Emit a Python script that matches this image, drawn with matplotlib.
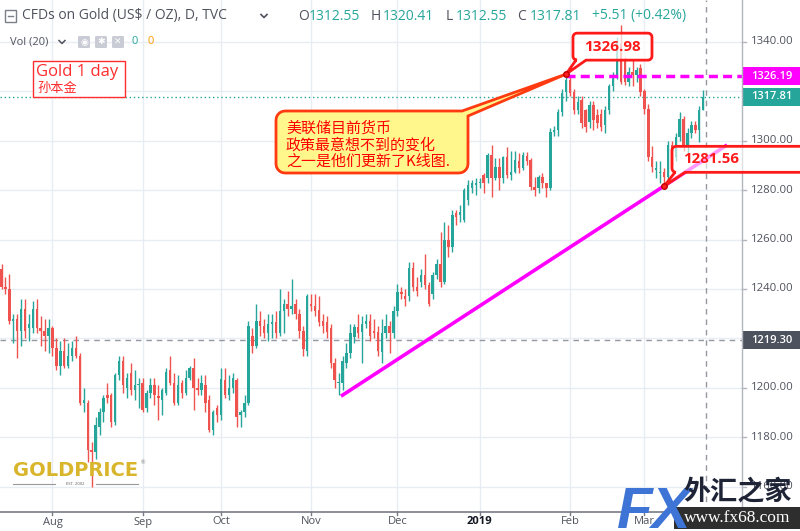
import numpy as np
import matplotlib
matplotlib.use("Agg")
import matplotlib.pyplot as plt
from matplotlib.patches import Polygon, Rectangle, FancyBboxPatch
from matplotlib.lines import Line2D
from matplotlib.transforms import blended_transform_factory

plt.rcParams['font.family'] = ['Open Sans', 'Noto Sans CJK SC', 'DejaVu Sans']

# ---------------- data ----------------
opens = [1248, 1241, 1240, 1227, 1228, 1223, 1232, 1224, 1224, 1232,
         1224, 1223, 1221, 1224, 1216, 1209, 1215, 1209, 1213, 1216,
         1213, 1194, 1194, 1175, 1174, 1184, 1190, 1197, 1197, 1186,
         1205, 1211, 1200, 1206, 1199, 1201, 1202, 1192, 1198, 1201,
         1196.5, 1195, 1198, 1207, 1202, 1194, 1202, 1198, 1204, 1208,
         1200, 1199, 1201, 1195, 1183, 1192, 1189, 1203, 1197, 1200,
         1203, 1189, 1190, 1194, 1221, 1217, 1227, 1225, 1222, 1226,
         1226.6, 1222, 1231, 1234, 1232, 1234, 1230, 1223, 1215, 1234,
         1233, 1231.5, 1227, 1226.6, 1224, 1210, 1202, 1202, 1210, 1214,
         1220.6, 1224.6, 1222.6, 1226, 1227, 1223, 1222.6, 1214.5, 1222, 1225,
         1222, 1231, 1238.6, 1237, 1237, 1248.5, 1241, 1243, 1245.7, 1241.6,
         1238, 1245.7, 1250, 1243, 1260, 1257, 1270.6, 1270, 1268, 1276,
         1280.7, 1282, 1283, 1286, 1284.8, 1294.2, 1284.8, 1289.5, 1284.8, 1293.6,
         1286, 1287.5, 1292, 1288.8, 1294, 1292.2, 1281.4, 1280.7, 1285.5, 1282.8,
         1280.7, 1303.7, 1304.4, 1311.8, 1319.9, 1324.6, 1319.9, 1312.5, 1316.5, 1312.5,
         1307.7, 1314.5, 1310.4, 1311, 1306.4, 1312.5, 1322, 1326.6, 1339, 1332.7,
         1324, 1328, 1326.6, 1329.3, 1320, 1313, 1293.6, 1288, 1287, 1287.5,
         1285.5, 1298.3, 1293.6, 1301.7, 1309, 1297.6, 1303, 1306.4, 1304.4, 1312.55]
highs = [1250, 1245, 1246, 1230, 1230, 1236, 1236, 1230, 1235, 1236,
         1229, 1228, 1228, 1225, 1220, 1219, 1220, 1218, 1219, 1221,
         1214, 1200, 1195, 1178, 1188, 1192, 1197, 1202, 1198, 1206,
         1213, 1213, 1206, 1210, 1207, 1204, 1204, 1199, 1204, 1204,
         1201, 1200, 1208, 1213, 1206, 1205, 1203, 1207, 1209, 1212,
         1204, 1205, 1205, 1197, 1191, 1193, 1208, 1208, 1205, 1206,
         1204, 1191, 1197, 1227, 1224, 1234, 1231, 1228, 1230, 1230,
         1231, 1240, 1236, 1239, 1244, 1236, 1232, 1225, 1238, 1238,
         1238, 1237, 1230, 1229, 1226, 1212, 1206, 1213, 1218, 1226,
         1226, 1230, 1229, 1230, 1230, 1228, 1225, 1228, 1230, 1227,
         1233, 1242, 1241, 1240, 1251, 1251, 1245, 1248, 1254, 1243,
         1247, 1252, 1263, 1267, 1266, 1272, 1272, 1274, 1281, 1284,
         1284, 1285, 1285, 1287, 1295, 1298.3, 1293, 1293, 1294, 1297.6,
         1296, 1296, 1295, 1295.5, 1295.5, 1293, 1285.5, 1286, 1287, 1283,
         1305, 1306, 1313, 1321, 1326.98, 1326, 1321, 1318, 1318, 1313,
         1316, 1316, 1313, 1313, 1314, 1323, 1328, 1342, 1346.9, 1334,
         1330, 1333, 1330, 1331, 1321, 1315, 1298, 1292, 1292, 1289,
         1300, 1300, 1303, 1311.8, 1310, 1305, 1308, 1308, 1314, 1320.41]
lows = [1240, 1238, 1226, 1218, 1212, 1217, 1220, 1219, 1222, 1222,
        1217, 1215, 1214, 1213, 1207, 1205, 1208, 1208, 1211, 1212,
        1193, 1190, 1170, 1160, 1171, 1181, 1186, 1194, 1184, 1185,
        1203, 1198, 1196, 1197, 1195, 1192, 1190, 1190, 1196, 1193,
        1187, 1189, 1197, 1201, 1193, 1193, 1196, 1197, 1203, 1191,
        1197, 1197, 1190, 1182, 1181, 1186, 1187, 1196, 1195, 1198,
        1184, 1184, 1188, 1193, 1214, 1216, 1221, 1220, 1219, 1220,
        1220, 1221, 1222, 1229, 1230, 1228, 1220, 1213, 1213, 1231,
        1229, 1225, 1222, 1220, 1208, 1200, 1197, 1199, 1208, 1212,
        1218, 1220, 1210, 1224, 1219, 1220, 1213, 1210, 1220, 1214,
        1220, 1229, 1236, 1233, 1235, 1239, 1237, 1241, 1240, 1233,
        1236, 1244, 1241, 1242, 1253, 1255, 1266, 1267, 1267, 1274,
        1279, 1278, 1281, 1279, 1283, 1277.4, 1284, 1280, 1283, 1285,
        1284, 1287, 1287, 1288, 1290, 1280, 1277.5, 1279, 1280.7, 1277.4,
        1280, 1302, 1302, 1310, 1316, 1318, 1311, 1311, 1305, 1303.7,
        1305, 1304.5, 1305, 1304, 1303, 1311, 1320, 1325, 1323, 1322.5,
        1322, 1322, 1324, 1318, 1311, 1292, 1287.5, 1285, 1282.8, 1281.56,
        1284, 1290, 1292, 1300, 1296, 1295, 1301, 1303, 1299.6, 1312.55]
closes = [1241, 1240, 1227, 1228, 1223, 1232, 1223, 1226, 1232, 1224,
          1223, 1221, 1224, 1216, 1209, 1215, 1209, 1213, 1216, 1213,
          1194, 1195, 1175, 1174, 1185, 1190, 1196, 1196, 1186, 1205,
          1211, 1201, 1204, 1199, 1201, 1201.5, 1191, 1198, 1201, 1197,
          1196, 1199, 1206.5, 1202, 1194, 1201, 1198, 1204, 1208, 1200,
          1199, 1202, 1194, 1183, 1190, 1189, 1203.5, 1197, 1200, 1204,
          1188, 1190, 1194, 1225, 1217, 1227, 1225, 1222, 1226, 1226.5,
          1222, 1231, 1234, 1232, 1233, 1230, 1223, 1215.5, 1237, 1233,
          1231, 1226.6, 1225, 1222.6, 1210, 1203, 1202.5, 1211, 1214, 1222,
          1224.6, 1222, 1226, 1227, 1221, 1222, 1215, 1222, 1225, 1222,
          1231, 1238.6, 1238, 1236, 1248.5, 1241, 1239, 1245.7, 1241.6, 1234,
          1245.7, 1250, 1243, 1260, 1257, 1270, 1269.3, 1271, 1280, 1282,
          1282.8, 1283, 1283.5, 1282.8, 1294.2, 1284.8, 1289.5, 1284.8, 1293.6, 1286.1,
          1287.5, 1292.2, 1288.8, 1294.2, 1292, 1281.4, 1280.1, 1285.5, 1282.8, 1280.7,
          1303.7, 1304.4, 1311.8, 1319.2, 1324.6, 1319.2, 1312.5, 1315.8, 1307, 1305.7,
          1314.5, 1308.4, 1307, 1305.7, 1312.5, 1322, 1326.6, 1340.5, 1324, 1324,
          1328, 1326.6, 1328.6, 1319.9, 1313, 1293.6, 1289.5, 1289, 1287.5, 1285.5,
          1298.3, 1293.6, 1301.7, 1309, 1297.6, 1303, 1306.4, 1304.4, 1312.3, 1317.81]

month_labels = ['Aug', 'Sep', 'Oct', 'Nov', 'Dec', '2019', 'Feb', 'Mar']
month_bars = [13, 36, 56, 79, 101, 122, 145, 164]
grid_prices = [1160, 1180, 1200, 1220, 1240, 1260, 1280, 1300, 1320, 1340]
price_labels = [1160, 1180, 1200, 1240, 1260, 1280, 1300, 1340]

high_bar, high_price = 144, 1326.98
low_bar, low_price = 169, 1281.56
resist_price = 1326.19
cross_price = 1219.30
cross_bar = 179.8
trend_bars = [86.6, 185.1]
trend_prices = [1196.6, 1298.3]

header_pairs = [('O', '1312.55'), ('H', '1320.41'), ('L', '1312.55'), ('C', '1317.81')]
change_text = '+5.51 (+0.42%)'

# ---------------- style ----------------
W, H, DPI = 800, 531, 100
UP, DN = '#26a69a', '#ef5350'
GRID = '#e8edf4'
TXT = '#50535e'
MAG = '#ff00ff'
RED = '#ff1a1a'

fig = plt.figure(figsize=(W / DPI, H / DPI), dpi=DPI)
fig.patch.set_facecolor('white')

BAR_PX, FIRST_PX = 3.92, 1.5
PLOT_R, PLOT_B = 742, 512
ax = fig.add_axes([0, (H - PLOT_B) / H, PLOT_R / W, PLOT_B / H])
ax.set_xlim(-FIRST_PX / BAR_PX, (PLOT_R - FIRST_PX) / BAR_PX)
ax.set_ylim(1149.7, 1357.0)
ax.set_facecolor('white')
for s in ax.spines.values():
    s.set_visible(False)
ax.set_xticks([])
ax.set_yticks([])

def fx(px):
    return px / W

def fy(py):
    return 1 - py / H

# grid
for p in grid_prices:
    ax.axhline(p, color=GRID, lw=1, zorder=0)
for m in month_bars:
    ax.axvline(m, color=GRID, lw=1, zorder=0)

# candles
o = np.array(opens, float); h = np.array(highs, float)
l = np.array(lows, float); c = np.array(closes, float)
idx = np.arange(len(c))
cols = np.where(c >= o, UP, DN)
ax.vlines(idx, l, h, colors=cols, lw=1, zorder=3)
bot = np.minimum(o, c)
hgt = np.maximum(np.abs(c - o), 0.45)
ax.bar(idx, hgt, bottom=bot, width=0.62, color=cols, linewidth=0, zorder=4)

# lines
ax.axhline(c[-1], color=UP, lw=1, ls=(0, (1, 2)), zorder=2)
ax.axhline(cross_price, color='#9598a1', lw=1, ls=(0, (4, 3.5)), zorder=2)
ax.axvline(cross_bar, color='#9598a1', lw=1, ls=(0, (4, 3.5)), zorder=2)
ax.plot([high_bar, ax.get_xlim()[1] + 1], [resist_price] * 2, color=MAG, lw=2.5,
        ls=(0, (2.6, 1.5)), zorder=5, clip_on=False)
ax.plot(trend_bars, trend_prices, color=MAG, lw=2.6, solid_capstyle='butt', zorder=5)

# axis borders
fig.add_artist(Line2D([fx(PLOT_R), fx(PLOT_R)], [fy(PLOT_B), 1], color='#b2b5be', lw=1,
                      transform=fig.transFigure, zorder=6))
fig.add_artist(Line2D([0, fx(PLOT_R)], [fy(PLOT_B), fy(PLOT_B)], color='#787b86', lw=1.2,
                      transform=fig.transFigure, zorder=6))

# ---------------- callouts ----------------
def arc(cx, cy, r, a0, a1, n=6):
    a = np.radians(np.linspace(a0, a1, n))
    return list(zip(cx + r * np.cos(a), cy + r * np.sin(a)))

def callout_bottom(lf, tp, rt, bt, rad, bx1, bx2, tip):
    pts = arc(lf + rad, tp + rad, rad, 180, 270)
    pts += arc(rt - rad, tp + rad, rad, 270, 360)
    pts += arc(rt - rad, bt - rad, rad, 0, 90)
    pts += [(bx2, bt), tip, (bx1, bt)]
    pts += arc(lf + rad, bt - rad, rad, 90, 180)
    return pts

def callout_topright(lf, tp, rt, bt, rad, bx, by, tip):
    pts = arc(lf + rad, tp + rad, rad, 180, 270)
    pts += [(bx, tp), tip, (rt, by)]
    pts += arc(rt - rad, bt - rad, rad, 0, 90)
    pts += arc(lf + rad, bt - rad, rad, 90, 180)
    return pts

def to_fig(pts):
    return [(fx(x), fy(y)) for x, y in pts]

def data_px(xv, yv):
    dx, dy = ax.transData.transform((xv, yv))
    return dx, H - dy

tipH = data_px(high_bar, high_price)
tipL = data_px(low_bar, low_price)

# yellow comment box
ypts = callout_topright(276, 111, 468, 173, 9, 462, 116, tipH)
fig.add_artist(Polygon(to_fig(ypts), closed=True, transform=fig.transFigure,
                       fc='#fff68c', ec='#ff3a10', lw=2, zorder=7))
ylines = ['美联储目前货币', '政策最意想不到的变化', '之一是他们更新了K线图.']
for i, s in enumerate(ylines):
    fig.text(fx(286), fy(128 + 17 * i), s, color='#ff0000', fontsize=10.8,
             family=['Noto Sans CJK SC', 'DejaVu Sans'], va='center', ha='left', zorder=8)

# 1326.98 box
hx, hy = tipH
b1 = callout_bottom(hx + 7, hy - 41, hx + 86, hy - 14, 4, hx + 10, hx + 20, tipH)
fig.add_artist(Polygon(to_fig(b1), closed=True, transform=fig.transFigure,
                       fc=(1, 1, 1, 0.72), ec=RED, lw=2, zorder=7))
fig.text(fx(hx + 46), fy(hy - 27), f'{high_price:.2f}', color=RED, fontsize=11,
         fontweight='bold', ha='center', va='center', zorder=8)

# 1281.56 box
lx, ly = tipL
b2 = callout_bottom(lx + 8, ly - 40, lx + 160, ly - 14, 4, lx + 11, lx + 21, tipL)
fig.add_artist(Polygon(to_fig(b2), closed=True, transform=fig.transFigure,
                       fc=(1, 1, 1, 0.6), ec=RED, lw=2, zorder=7))
fig.text(fx(lx + 19), fy(ly - 27), f'{low_price:.2f}', color=RED, fontsize=10.8,
         fontweight='bold', ha='left', va='center', zorder=8)

# markers
for (bx_, py_) in [(high_bar, high_price), (low_bar, low_price)]:
    dx, dy = data_px(bx_, py_)
    fig.add_artist(Line2D([fx(dx)], [fy(dy)], marker='o', ms=4, color='#ff2020',
                          mec='#c00000', transform=fig.transFigure, zorder=9))

# ---------------- price axis ----------------
blend = blended_transform_factory(fig.transFigure, ax.transData)
for p in price_labels:
    ax.text(fx(751), p, f'{p:.2f}', transform=blend, fontsize=8.2, color=TXT,
            va='center', ha='left', clip_on=False, zorder=10)
for p in grid_prices:
    ax.plot([fx(PLOT_R), fx(PLOT_R + 4)], [p, p], transform=blend, color='#b2b5be',
            lw=1, clip_on=False, zorder=10)

def price_tag(price, bg, text):
    ax.add_patch(Rectangle((fx(PLOT_R), price - 3.65), fx(W - PLOT_R), 7.3,
                           transform=blend, fc=bg, ec='none', clip_on=False, zorder=11))
    ax.text(fx(772), price, text, transform=blend, fontsize=8, color='white',
            fontweight='semibold', va='center', ha='center', clip_on=False, zorder=12)

price_tag(resist_price, MAG, f'{resist_price:.2f}')
price_tag(c[-1], UP, f'{c[-1]:.2f}')
price_tag(cross_price, '#4c525e', f'{cross_price:.2f}')

# ---------------- time axis ----------------
tblend = blended_transform_factory(ax.transData, fig.transFigure)
for m, lab in zip(month_bars, month_labels):
    bold = lab.isdigit()
    ax.text(m, fy(522), lab, transform=tblend, fontsize=8, ha='center', va='center',
            color='#131722' if bold else TXT, fontweight='bold' if bold else 'normal',
            clip_on=False, zorder=13)
    ax.plot([m, m], [fy(512), fy(515)], transform=tblend, color='#787b86', lw=1,
            clip_on=False, zorder=10)

# ---------------- header ----------------
fig.add_artist(Rectangle((fx(5), fy(22)), fx(11), 12 / H, transform=fig.transFigure,
                         fc='white', ec='#7b7f8a', lw=1, zorder=10))
fig.add_artist(Line2D([fx(8), fx(13)], [fy(16), fy(16)], color='#7b7f8a', lw=1,
                      transform=fig.transFigure, zorder=11))
fig.text(fx(22), fy(16), 'CFDs on Gold (US\\$ / OZ), D, TVC', fontsize=10, color=TXT,
         va='center', ha='left', zorder=10)
fig.add_artist(Line2D([fx(261), fx(264), fx(267)], [fy(14.5), fy(17.5), fy(14.5)],
                      color=TXT, lw=1.2, transform=fig.transFigure, zorder=10))
xpos = [(298, 309), (371, 383), (446, 456), (517, 530)]
for (k, v), (xk, xv) in zip(header_pairs, xpos):
    fig.text(fx(xk), fy(16), k, fontsize=10, color=TXT, va='center', ha='left', zorder=10)
    fig.text(fx(xv), fy(16), v, fontsize=10, color=UP, va='center', ha='left', zorder=10)
fig.text(fx(592), fy(16), change_text, fontsize=10, color=UP, va='center', ha='left', zorder=10)

fig.text(fx(10), fy(42), 'Vol (20)', fontsize=8, color=TXT, va='center', ha='left', zorder=10)
fig.add_artist(Line2D([fx(59), fx(62), fx(65)], [fy(40.5), fy(43.5), fy(40.5)],
                      color=TXT, lw=1.1, transform=fig.transFigure, zorder=10))
glyphs = ['◉', '✱', '✕']
for i, gx in enumerate([78, 95, 112]):
    fig.add_artist(FancyBboxPatch((fx(gx), fy(48)), fx(12), 12 / H,
                                  boxstyle='round,pad=0,rounding_size=0.002',
                                  transform=fig.transFigure, fc='#c9ccd4', ec='none', zorder=10))
    fig.text(fx(gx + 6), fy(42), glyphs[i], fontsize=6.5, color='white', ha='center',
             va='center', family=['DejaVu Sans'], zorder=11)
fig.text(fx(132), fy(42), '0', fontsize=8, color=UP, va='center', ha='left', zorder=10)
fig.text(fx(147), fy(42), '0', fontsize=8, color='#ff9800', va='center', ha='left', zorder=10)

# Gold 1 day label
fig.add_artist(Rectangle((fx(33), fy(97)), fx(92), 36 / H, transform=fig.transFigure,
                         fc='white', ec='#ff2d2d', lw=1, zorder=10))
fig.text(fx(36), fy(72), 'Gold 1 day', fontsize=12, color='#ff2d2d', va='center',
         ha='left', zorder=11)
fig.text(fx(37), fy(88.5), '孙本金', fontsize=9.5, color='#ff2d2d', va='center', ha='left',
         family=['Noto Sans CJK SC', 'DejaVu Sans'], zorder=11)

# ---------------- watermarks ----------------
fig.text(fx(13), fy(471), 'GOLDPRICE', fontsize=14, fontweight='bold', color='#d9b52c',
         va='center', ha='left', family=['DejaVu Sans'], zorder=10)
fig.text(fx(141), fy(463), '®', fontsize=4, color='#777', va='center', zorder=10)
fig.add_artist(Line2D([fx(13), fx(55)], [fy(484), fy(484)], color='#999', lw=0.8,
                      transform=fig.transFigure, zorder=10))
fig.add_artist(Line2D([fx(96), fx(138)], [fy(484), fy(484)], color='#999', lw=0.8,
                      transform=fig.transFigure, zorder=10))
fig.text(fx(75.5), fy(484), 'EST. 2002', fontsize=3, color='#555', ha='center',
         va='center', zorder=10)

fig.text(fx(617), fy(528), 'FX', fontsize=42, fontweight='bold', style='italic',
         color='#3d74d6', family=['Liberation Sans Narrow', 'Liberation Sans'],
         ha='left', va='baseline', zorder=12)
fig.text(fx(683), fy(492), '外汇之家', fontsize=19.5, fontweight='bold', color='#1e2436',
         family=['Noto Sans CJK SC', 'DejaVu Sans'], ha='left', va='center', zorder=12)
fig.add_artist(Rectangle((fx(674), fy(529)), fx(126), 22 / H, transform=fig.transFigure,
                         fc='#2e2e2e', ec='none', zorder=11))
fig.text(fx(737), fy(518), 'www.fx68.com', fontsize=12.5, color='white',
         family=['Liberation Serif', 'DejaVu Serif'], ha='center', va='center', zorder=12)

fig.savefig('out.png', dpi=DPI, facecolor='white')
